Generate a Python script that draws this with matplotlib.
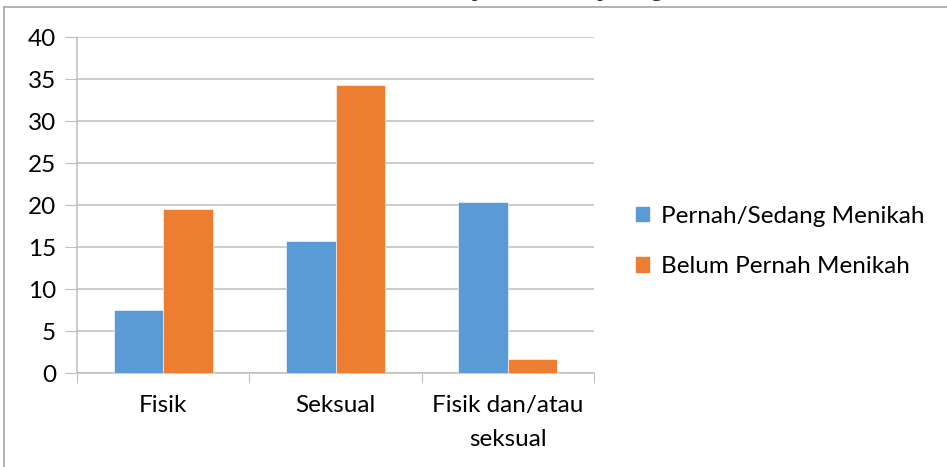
import matplotlib
matplotlib.use("Agg")
import matplotlib.pyplot as plt
from matplotlib.patches import Rectangle
import numpy as np

categories = ["Fisik", "Seksual", "Fisik dan/atau\nseksual"]
series_names = ["Pernah/Sedang Menikah", "Belum Pernah Menikah"]
pernah_menikah = [7.5, 15.7, 20.3]
belum_menikah = [19.5, 34.3, 1.7]
y_ticks = [0, 5, 10, 15, 20, 25, 30, 35, 40]

colors = ["#5B9BD5", "#ED7D31"]
W, H = 947, 467
FS = 17.5
plt.rcParams["font.family"] = ["Lato", "DejaVu Sans"]

fig = plt.figure(figsize=(W / 100, H / 100), dpi=100)

# plot area in pixel coordinates
left, right, top, bottom = 77, 594, 37, 373
ax = fig.add_axes([left / W, 1 - bottom / H, (right - left) / W, (bottom - top) / H])

x = np.arange(len(categories))
bw = 0.287
ax.bar(x - bw / 2, pernah_menikah, bw, color=colors[0], label=series_names[0], zorder=3,
       edgecolor="white", linewidth=0.4)
ax.bar(x + bw / 2, belum_menikah, bw, color=colors[1], label=series_names[1], zorder=3,
       edgecolor="white", linewidth=0.4)

ax.set_xlim(-0.5, len(categories) - 0.5)
ax.set_ylim(0, 40)
ax.set_yticks(y_ticks)
ax.set_yticklabels([str(t) for t in y_ticks], fontsize=FS)
ax.yaxis.grid(True, color="#BFBFBF", linewidth=1.1, zorder=0)
ax.tick_params(axis="y", length=9, color="#BFBFBF", pad=6)
for s in ["top", "right"]:
    ax.spines[s].set_visible(False)
ax.spines["left"].set_color("#BFBFBF")
ax.spines["bottom"].set_color("#BFBFBF")
ax.spines["left"].set_linewidth(1.1)
ax.spines["bottom"].set_linewidth(1.1)

# category ticks sit on the boundaries between groups
ax.set_xticks(np.arange(len(categories) + 1) - 0.5)
ax.set_xticklabels([""] * (len(categories) + 1))
ax.tick_params(axis="x", length=7, color="#BFBFBF")
for i, c in enumerate(categories):
    ax.text(i, -2.6, c, ha="center", va="top", fontsize=FS, linespacing=1.75,
            transform=ax.transData)

# legend
handles = [Rectangle((0, 0), 1, 1, color=c) for c in colors]
fig.legend(handles, series_names, loc="upper left", bbox_to_anchor=(626 / W, 1 - 196 / H),
           frameon=False, fontsize=FS, handlelength=0.55, handleheight=0.55,
           handletextpad=0.5, labelspacing=1.2, borderaxespad=0)

# chart border
fig.add_artist(plt.Line2D([4 / W, 1], [1 - 7 / H, 1 - 7 / H], color="#A6A6A6", linewidth=1.2))
fig.add_artist(plt.Line2D([4 / W, 4 / W], [0, 1 - 7 / H], color="#A6A6A6", linewidth=1.2))

# caption line above the chart, mostly outside the figure
fig.text(490 / W, 1 + 4 / H, "atau seksual selama hidup oleh selain pasangan, 2016",
         ha="center", va="baseline", fontsize=17, family="Liberation Serif", color="#222222")

fig.savefig("out.png", dpi=100)
